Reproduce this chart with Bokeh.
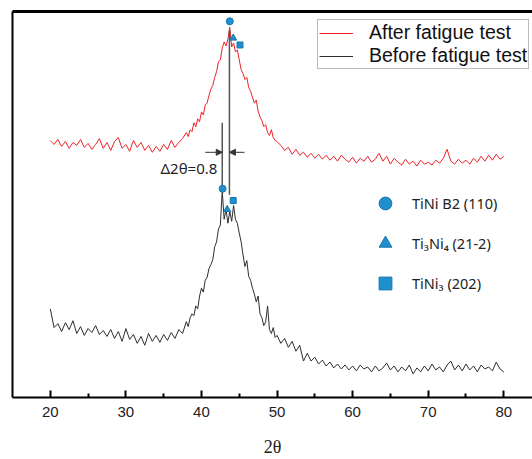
import numpy as np
from bokeh.plotting import figure
from bokeh.models import (LinearAxis, FixedTicker, Legend, LegendItem, Arrow,
                          NormalHead, Range1d)
from bokeh.core.properties import value
from bokeh.embed import file_html
from bokeh.resources import INLINE

# ---------------- data ----------------
# 2-theta sampling grid (finer around the peak)
two_theta = np.concatenate([np.arange(20, 38, 0.5),
                            np.arange(38, 50, 0.25),
                            np.arange(50, 80.01, 0.5)])

# intensity (a.u.), after fatigue test (red, offset trace)
after_fatigue = [
    261, 257, 262, 255, 260, 253, 259, 256, 262, 254,
    258, 252, 257, 263, 253, 259, 251, 260, 264, 253,
    257, 250, 261, 254, 259, 251, 256, 249, 255, 250,
    257, 252, 261, 254, 259, 263,
    # 38 .. 49.75 step 0.25
    269, 265, 272, 270, 279, 275, 283, 280, 290, 287,
    297, 299, 307, 313, 317, 325, 331, 341, 343, 355,
    361, 357, 364, 376, 356, 360, 351, 353, 343, 333,
    329, 323, 325, 315, 311, 305, 299, 302, 291, 285,
    281, 275, 277, 269, 266, 272, 264, 261,
    # 50 .. 80 step 0.5
    260, 256, 251, 254, 247, 252, 246, 249, 244, 248,
    243, 247, 242, 246, 241, 245, 240, 246, 242, 239,
    244, 238, 243, 240, 245, 239, 242, 248, 240, 245,
    237, 243, 239, 236, 242, 237, 240, 235, 241, 237,
    239, 236, 241, 238, 243, 252, 240, 237, 242, 238,
    241, 237, 243, 239, 245, 240, 246, 241, 247, 242,
    245,
]

# intensity (a.u.), before fatigue test (black)
before_fatigue = [
    90, 71, 75, 67, 76, 69, 78, 65, 72, 63,
    70, 66, 73, 64, 68, 62, 69, 60, 67, 57,
    70, 59, 64, 55, 62, 53, 65, 57, 63, 56,
    64, 58, 66, 60, 69, 65,
    # 38 .. 49.75 step 0.25
    77, 72, 81, 85, 83, 93, 90, 103, 111, 107,
    119, 122, 131, 135, 140, 153, 158, 171, 175, 210,
    181, 191, 177, 189, 179, 195, 181, 177, 167, 158,
    145, 133, 139, 123, 119, 111, 105, 97, 103, 85,
    81, 73, 77, 93, 69, 65, 71, 61,
    # 50 .. 80 step 0.5
    63, 55, 60, 51, 57, 47, 53, 37, 45, 37,
    41, 34, 38, 32, 36, 30, 34, 29, 33, 28,
    32, 27, 33, 29, 31, 26, 32, 27, 30, 35,
    28, 32, 26, 31, 27, 33, 24, 30, 26, 32,
    27, 34, 28, 31, 26, 33, 37, 28, 33, 27,
    34, 28, 32, 26, 33, 29, 31, 27, 36, 29,
    26,
]

# phase markers: [after trace, before trace]
b2_x = [43.75, 42.8]
b2_y = [382, 212]
ti3ni4_x = [44.2, 43.4]
ti3ni4_y = [365, 191]
tini3_x = [45.1, 44.2]
tini3_y = [358, 200]

# peak positions and shift annotation
peak_after = 43.7
peak_before = 42.75
peak_line_bottom = [206, 212]
peak_line_top = [373, 279]
arrow_level = 249
arrow_start = [40.5, 45.7]
shift_label = "Δ2θ=0.8"
shift_label_pos = (42.1, 233)

x_ticks = [20, 30, 40, 50, 60, 70, 80]
x_minor = [25, 35, 45, 55, 65, 75]

series_labels = ["After fatigue test", "Before fatigue test"]
phase_labels = ["TiNi B2 (110)", "Ti\u2083Ni\u2084 (21-2)", "TiNi\u2083 (202)"]

RED = "#ec2227"
BLACK = "#2e2e2e"
BLUE = "#1f8fcd"
BLUE_EDGE = "#1878ad"

# ---------------- figure ----------------
p = figure(width=532, height=459, output_backend="svg", toolbar_location=None,
           x_range=Range1d(15, 83.8), y_range=Range1d(0, 392),
           min_border_left=12, min_border_right=0, min_border_top=11,
           min_border_bottom=56)
p.outline_line_color = None
p.xgrid.visible = False
p.ygrid.visible = False
p.background_fill_color = "white"
p.border_fill_color = "white"

# bottom axis
xa = p.xaxis[0]
xa.ticker = FixedTicker(ticks=x_ticks, minor_ticks=x_minor)
xa.axis_line_width = 2
xa.axis_line_color = "black"
xa.major_tick_in = 7
xa.major_tick_out = 0
xa.major_tick_line_width = 2
xa.minor_tick_in = 4
xa.minor_tick_out = 0
xa.minor_tick_line_width = 2
xa.major_label_text_font = "Liberation Sans"
xa.major_label_text_font_size = "15px"
xa.major_label_text_color = "#222222"
xa.major_label_standoff = 9
xa.axis_label = "2θ"
xa.axis_label_text_font = "Liberation Serif"
xa.axis_label_text_font_size = "18px"
xa.axis_label_text_font_style = "normal"
xa.axis_label_text_color = "#222222"
xa.axis_label_standoff = 17

# left axis: plain line
ya = p.yaxis[0]
ya.ticker = FixedTicker(ticks=[])
ya.axis_line_width = 2
ya.axis_line_color = "black"
ya.major_tick_line_color = None
ya.minor_tick_line_color = None

# top border line
top = LinearAxis(ticker=FixedTicker(ticks=[]), axis_line_width=3,
                 axis_line_color="black", major_tick_line_color=None,
                 minor_tick_line_color=None)
p.add_layout(top, "above")

# traces
r_after = p.line(two_theta, after_fatigue, line_color=RED, line_width=1)
r_before = p.line(two_theta, before_fatigue, line_color=BLACK, line_width=1)

# peak lines
p.segment(x0=[peak_after, peak_before], y0=peak_line_bottom,
          x1=[peak_after, peak_before], y1=peak_line_top,
          line_color="#555555", line_width=1.5)

# shift arrows
for xs, xe in zip(arrow_start, [peak_before, peak_after]):
    p.add_layout(Arrow(end=NormalHead(size=6, fill_color="#333333",
                                      line_color="#333333"),
                       x_start=xs, y_start=arrow_level, x_end=xe, y_end=arrow_level,
                       line_color="#333333", line_width=1))

p.text(x=[shift_label_pos[0]], y=[shift_label_pos[1]], text=[shift_label],
       text_font=value("Noto Sans"), text_font_size="15px", text_color="#222222",
       text_align="right", text_baseline="middle")

# phase markers
r_b2 = p.scatter(b2_x, b2_y, marker="circle", size=7, fill_color=BLUE,
                 line_color=BLUE_EDGE)
r_t34 = p.scatter(ti3ni4_x, ti3ni4_y, marker="triangle", size=7, fill_color=BLUE,
                  line_color=BLUE_EDGE)
r_t3 = p.scatter(tini3_x, tini3_y, marker="square", size=6, fill_color=BLUE,
                 line_color=BLUE_EDGE)

# legend for traces
leg1 = Legend(items=[LegendItem(label=series_labels[0], renderers=[r_after]),
                     LegendItem(label=series_labels[1], renderers=[r_before])],
              location=(305, 328), orientation="vertical",
              label_text_font="Liberation Sans", label_text_font_size="19.5px",
              label_text_line_height=0.9,
              label_text_color="#111111",
              glyph_width=34, glyph_height=20, label_height=20, spacing=0,
              padding=1, margin=0, label_standoff=16,
              border_line_color="#777777", border_line_width=1,
              background_fill_color="white", background_fill_alpha=1)
p.add_layout(leg1, "center")

# legend for phases
leg2 = Legend(items=[LegendItem(label=phase_labels[0], renderers=[r_b2]),
                     LegendItem(label=phase_labels[1], renderers=[r_t34]),
                     LegendItem(label=phase_labels[2], renderers=[r_t3])],
              location=(357, 98), orientation="vertical",
              label_text_font="Noto Sans", label_text_font_size="14.5px",
              label_text_color="#222222",
              glyph_width=32, glyph_height=32, label_height=32, spacing=8,
              padding=0, margin=0, label_standoff=11,
              border_line_color=None, background_fill_alpha=0)
p.add_layout(leg2, "center")

open("out.html", "w").write(file_html(p, INLINE))
